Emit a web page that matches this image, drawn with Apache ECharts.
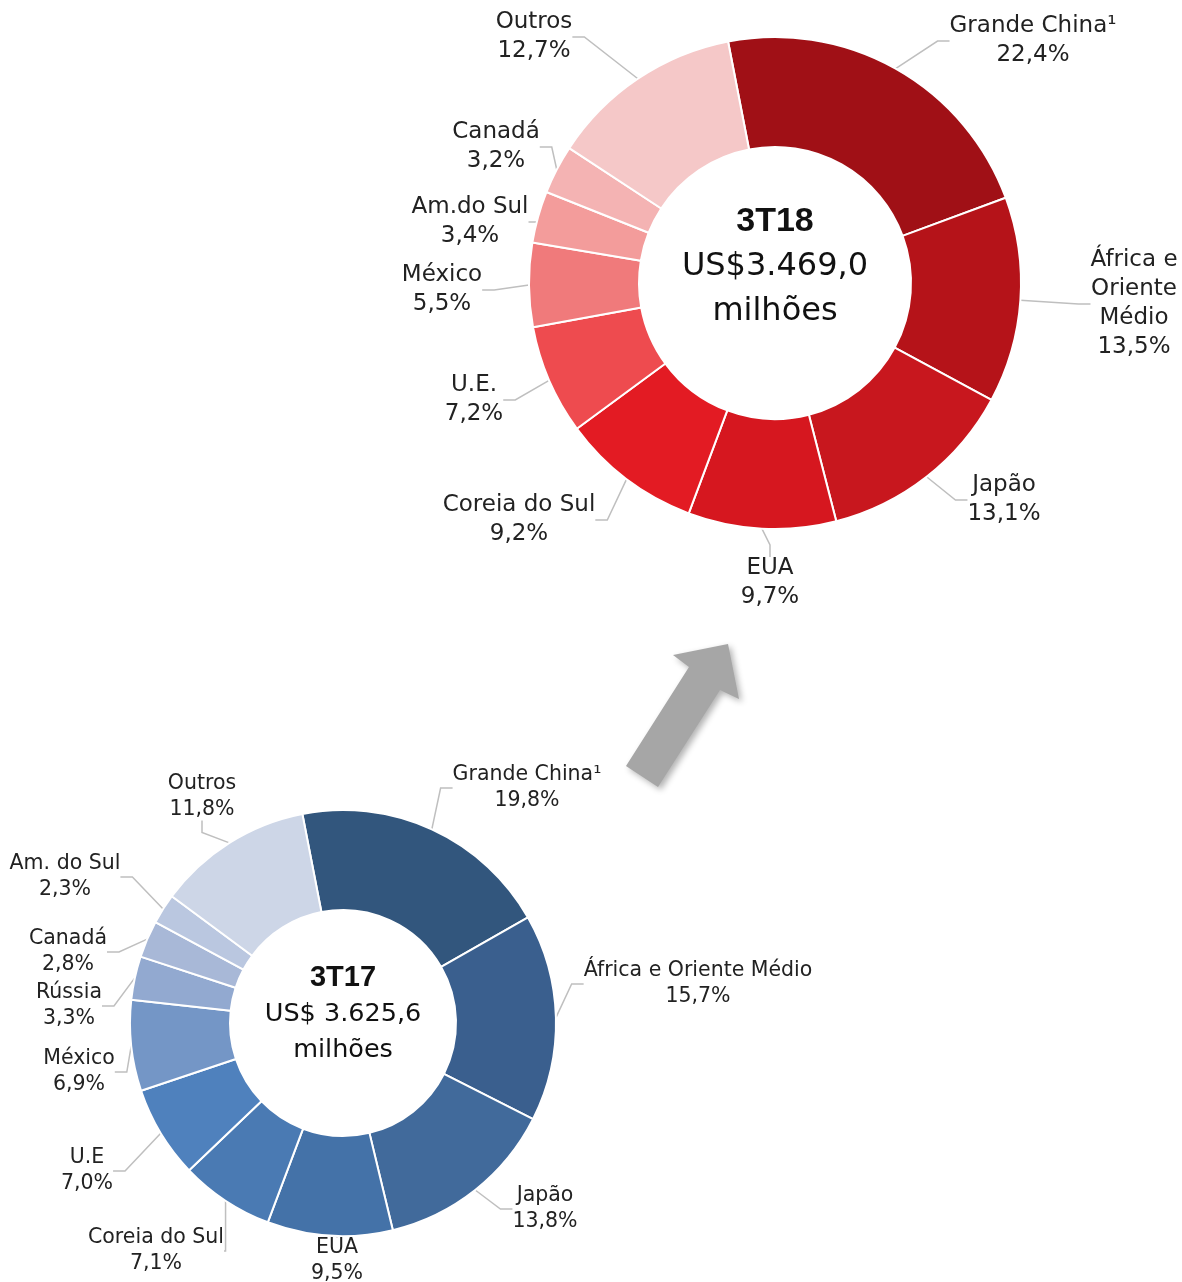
<!DOCTYPE html>
<html>
<head>
    <meta charset="utf-8">
    <title>Receita por região - 3T17 x 3T18</title>
    <script src="https://cdn.jsdelivr.net/npm/echarts@6/dist/echarts.min.js"></script>
    <style>
        body { margin: 0; padding: 0; background: #fff; overflow: hidden; }
        #chart { width: 1182px; height: 1282px; }
    </style>
</head>
<body>
    <div id="chart"></div>
    <script>
        // 3T18 (vermelho, em cima)
        const regioes18 = ['Grande China¹', 'África e\nOriente\nMédio', 'Japão', 'EUA', 'Coreia do Sul',
            'U.E.', 'México', 'Am.do Sul', 'Canadá', 'Outros'];
        const valores18 = [22.4, 13.5, 13.1, 9.7, 9.2, 7.2, 5.5, 3.4, 3.2, 12.7];
        const cores18 = ['#A01016', '#B51319', '#C8171E', '#D6171F', '#E31B23',
            '#EE4B4F', '#F07A7B', '#F39C9B', '#F4B3B3', '#F5C8C8'];

        // 3T17 (azul, embaixo)
        const regioes17 = ['Grande China¹', 'África e Oriente Médio', 'Japão', 'EUA', 'Coreia do Sul',
            'U.E', 'México', 'Rússia', 'Canadá', 'Am. do Sul', 'Outros'];
        const valores17 = [19.8, 15.7, 13.8, 9.5, 7.1, 7.0, 6.9, 3.3, 2.8, 2.3, 11.8];
        const cores17 = ['#32567D', '#3A5F8E', '#416A9B', '#4472A8', '#4A7AB3',
            '#4F81BD', '#7496C6', '#92A9D0', '#A8B8D7', '#BAC7E0', '#CDD6E7'];

        // posição dos rótulos (centro x, topo y) como no original
        const posRotulos18 = [[1033, 12], [1134, 246], [1004, 471], [770, 554], [519, 491],
            [474, 371], [442, 261], [470, 193], [496, 118], [534, 8]];
        const posRotulos17 = [[527, 762], [698, 958], [545, 1183], [337, 1235], [156, 1225],
            [87, 1145], [79, 1046], [69, 980], [68, 926], [65, 851], [202, 771]];

        const fonte = 'DejaVu Sans';
        const pct = v => v.toFixed(1).replace('.', ',') + '%';

        const chart = echarts.init(document.getElementById('chart'));

        function montaSerie(nomes, valores, cores, centro, raios, tamFonte, alturaLinha, posRotulos) {
            return {
                type: 'pie',
                center: centro,
                radius: raios,
                startAngle: 101,
                clockwise: true,
                avoidLabelOverlap: true,
                animation: false,
                data: nomes.map((n, i) => ({
                    name: n,
                    value: valores[i],
                    itemStyle: { color: cores[i] }
                })),
                itemStyle: { borderColor: '#fff', borderWidth: 2 },
                label: {
                    show: true,
                    position: 'outside',
                    formatter: p => '{t|' + p.name + '}\n{t|' + pct(p.value) + '}',
                    rich: {
                        t: {
                            fontFamily: fonte,
                            fontSize: tamFonte,
                            lineHeight: alturaLinha,
                            color: '#222',
                            align: 'center'
                        }
                    }
                },
                labelLine: {
                    show: true,
                    length: 16,
                    length2: 12,
                    lineStyle: { color: '#bfbfbf', width: 1.5 }
                },
                labelLayout: p => ({
                    x: posRotulos[p.dataIndex][0],
                    y: posRotulos[p.dataIndex][1],
                    align: 'center',
                    verticalAlign: 'top'
                }),
                emphasis: { disabled: true }
            };
        }

        const option = {
            backgroundColor: '#fff',
            series: [
                montaSerie(regioes18, valores18, cores18, [775, 283], [136, 246], 23, 29, posRotulos18),
                montaSerie(regioes17, valores17, cores17, [343, 1023], [113, 213], 20.5, 26, posRotulos17)
            ],
            graphic: [
                {
                    type: 'text', left: 775 - 120, top: 205,
                    style: {
                        text: '{b|3T18}\n{n|US$3.469,0}\n{n|milhões}',
                        rich: {
                            b: { fontFamily: 'Liberation Sans', fontWeight: 'bold', fontSize: 34, lineHeight: 45, fill: '#111', width: 240, align: 'center' },
                            n: { fontFamily: fonte, fontSize: 32, lineHeight: 45, fill: '#111', width: 240, align: 'center' }
                        }
                    }
                },
                {
                    type: 'text', left: 343 - 100, top: 963,
                    style: {
                        text: '{b|3T17}\n{n|US$ 3.625,6}\n{n|milhões}',
                        rich: {
                            b: { fontFamily: 'Liberation Sans', fontWeight: 'bold', fontSize: 29, lineHeight: 37, fill: '#111', width: 200, align: 'center' },
                            n: { fontFamily: fonte, fontSize: 25.5, lineHeight: 36, fill: '#111', width: 200, align: 'center' }
                        }
                    }
                },
                {
                    // seta cinza entre os dois gráficos
                    type: 'polygon',
                    shape: {
                        points: [[728, 644], [739, 699], [720, 690], [658, 787], [626, 766], [689, 667], [673, 655]]
                    },
                    style: {
                        fill: '#a6a6a6',
                        shadowBlur: 6,
                        shadowOffsetX: 3,
                        shadowOffsetY: 3,
                        shadowColor: 'rgba(0,0,0,0.3)'
                    }
                }
            ]
        };

        chart.setOption(option);
    </script>
</body>
</html>
